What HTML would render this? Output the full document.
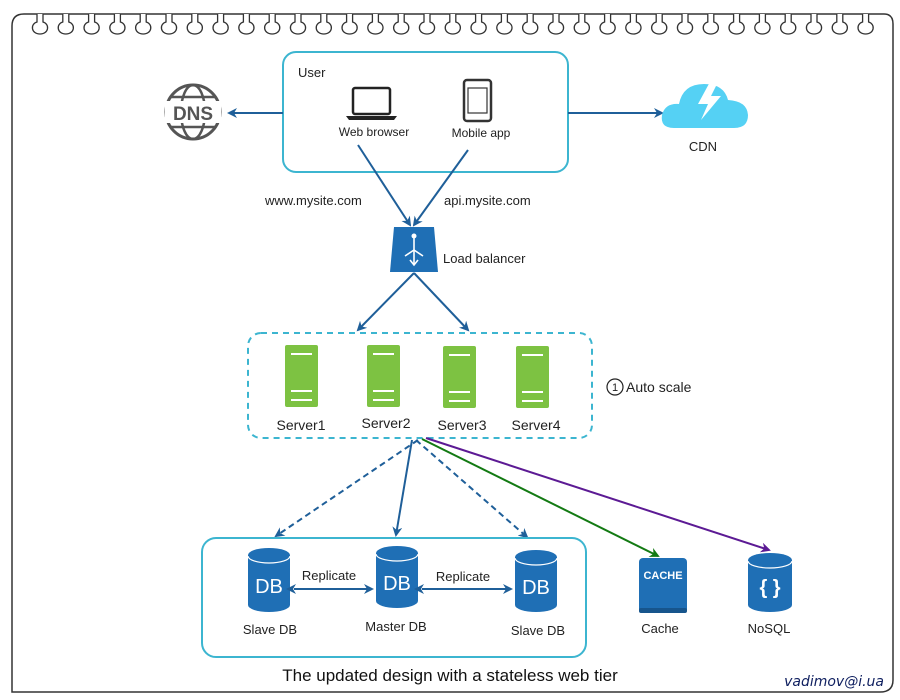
<!DOCTYPE html>
<html><head><meta charset="utf-8">
<style>
html,body{margin:0;padding:0;background:#fff;}
svg{display:block;font-family:"Liberation Sans",Arial,sans-serif;}
</style></head>
<body>
<svg id="s" width="900" height="700" viewBox="0 0 900 700" xmlns="http://www.w3.org/2000/svg">
<defs>
<marker id="ab" markerWidth="10" markerHeight="10" refX="8" refY="5" orient="auto" markerUnits="userSpaceOnUse"><path d="M0,0 L10,5 L0,10 L3,5 z" fill="#1f5f99"/></marker>
<marker id="ab2" markerWidth="10" markerHeight="10" refX="2" refY="5" orient="auto-start-reverse" markerUnits="userSpaceOnUse"><path d="M0,0 L10,5 L0,10 L3,5 z" fill="#1f5f99"/></marker>
<marker id="ag" markerWidth="10" markerHeight="10" refX="8" refY="5" orient="auto" markerUnits="userSpaceOnUse"><path d="M0,0 L10,5 L0,10 L3,5 z" fill="#137a13"/></marker>
<marker id="ap" markerWidth="10" markerHeight="10" refX="8" refY="5" orient="auto" markerUnits="userSpaceOnUse"><path d="M0,0 L10,5 L0,10 L3,5 z" fill="#5c1a94"/></marker>
</defs>
<!-- frame -->
<path d="M24,14 L884,14 Q893,14 893,24 L893,680 Q893,692 880,692 L12,692 L12,26 Q12,14 24,14" fill="none" stroke="#333" stroke-width="1.5"/>
<g id="loops" fill="#fff" stroke="#333" stroke-width="1.3"></g>

<!-- user box -->
<rect x="283" y="52" width="285" height="120" rx="13" fill="none" stroke="#3cb5d0" stroke-width="2"/>
<text x="298" y="77" font-size="13" fill="#222">User</text>
<rect x="353" y="88" width="37" height="26" rx="2" fill="none" stroke="#222" stroke-width="2.5"/>
<path d="M346,116 L397,116 L394,120 L349,120 z" fill="#222"/>
<text x="374" y="136" font-size="12" fill="#222" text-anchor="middle">Web browser</text>
<rect x="464" y="80" width="27" height="41" rx="3" fill="none" stroke="#333" stroke-width="2.5"/>
<rect x="468" y="88" width="19" height="25" fill="none" stroke="#333" stroke-width="1.2"/>
<text x="481" y="137" font-size="12" fill="#222" text-anchor="middle">Mobile app</text>

<!-- DNS -->
<circle cx="193" cy="112" r="27" fill="none" stroke="#555" stroke-width="3"/>
<ellipse cx="193" cy="112" rx="12" ry="27" fill="none" stroke="#555" stroke-width="2.5"/>
<line x1="170" y1="97" x2="216" y2="97" stroke="#555" stroke-width="2.5"/>
<line x1="170" y1="127" x2="216" y2="127" stroke="#555" stroke-width="2.5"/>
<rect x="165" y="101" width="56" height="22" fill="#fff"/>
<text x="193" y="120" font-size="19" font-weight="bold" fill="#555" text-anchor="middle">DNS</text>
<line x1="283" y1="113" x2="229" y2="113" stroke="#1f5f99" stroke-width="2" marker-end="url(#ab)"/>

<!-- CDN -->
<line x1="568" y1="113" x2="662" y2="113" stroke="#1f5f99" stroke-width="2" marker-end="url(#ab)"/>
<path d="M674,128 Q660,128 662,115 Q665,103 679,104 Q683,84 704,84 Q724,84 728,100 Q747,101 748,115 Q748,128 734,128 z" fill="#55d1f4"/>
<path d="M711,80 L698,104 L708,104 L701,120 L721,96 L711,96 L718,82 z" fill="#fff"/>
<text x="703" y="151" font-size="13" fill="#222" text-anchor="middle">CDN</text>

<!-- to LB -->
<line x1="358" y1="145" x2="410" y2="225" stroke="#1f5f99" stroke-width="2" marker-end="url(#ab)"/>
<line x1="468" y1="150" x2="414" y2="225" stroke="#1f5f99" stroke-width="2" marker-end="url(#ab)"/>
<text x="265" y="205" font-size="13" fill="#222">www.mysite.com</text>
<text x="444" y="205" font-size="13" fill="#222">api.mysite.com</text>

<!-- LB -->
<path d="M394,227 L434,227 L438,272 L390,272 z" fill="#1f6fb5"/>
<g stroke="#fff" stroke-width="1.6" fill="none"><line x1="414" y1="238" x2="414" y2="264"/><path d="M414,250 L405,256 M414,250 L423,256 M410,260 L414,265 L418,260"/></g>
<circle cx="414" cy="236" r="2.5" fill="#fff"/>
<text x="443" y="263" font-size="13" fill="#222">Load balancer</text>
<line x1="414" y1="273" x2="358" y2="330" stroke="#1f5f99" stroke-width="2" marker-end="url(#ab)"/>
<line x1="414" y1="273" x2="468" y2="330" stroke="#1f5f99" stroke-width="2" marker-end="url(#ab)"/>

<!-- servers -->
<rect x="248" y="333" width="344" height="105" rx="13" fill="none" stroke="#3cb5d0" stroke-width="2" stroke-dasharray="6,5"/>
<g fill="#7dc242">
<rect x="285" y="345" width="33" height="62" rx="2"/><rect x="367" y="345" width="33" height="62" rx="2"/>
<rect x="443" y="346" width="33" height="62" rx="2"/><rect x="516" y="346" width="33" height="62" rx="2"/>
</g>
<g stroke="#fff" stroke-width="2">
<path d="M291,354 H312 M291,391 H312 M291,400 H312"/>
<path d="M373,354 H394 M373,391 H394 M373,400 H394"/>
<path d="M449,355 H470 M449,392 H470 M449,401 H470"/>
<path d="M522,355 H543 M522,392 H543 M522,401 H543"/>
</g>
<g font-size="14" fill="#222" text-anchor="middle">
<text x="301" y="430">Server1</text><text x="386" y="428">Server2</text>
<text x="462" y="430">Server3</text><text x="536" y="430">Server4</text>
</g>
<circle cx="615" cy="387" r="8" fill="none" stroke="#222" stroke-width="1.2"/>
<text x="615" y="391" font-size="11" text-anchor="middle" fill="#222">1</text>
<text x="626" y="392" font-size="14" fill="#222">Auto scale</text>

<!-- from servers -->
<line x1="418" y1="440" x2="276" y2="536" stroke="#1f5f99" stroke-width="2" stroke-dasharray="6,4" marker-end="url(#ab)"/>
<line x1="412" y1="440" x2="396" y2="535" stroke="#1f5f99" stroke-width="2" marker-end="url(#ab)"/>
<line x1="416" y1="440" x2="527" y2="537" stroke="#1f5f99" stroke-width="2" stroke-dasharray="6,4" marker-end="url(#ab)"/>
<line x1="422" y1="439" x2="658" y2="556" stroke="#137a13" stroke-width="2" marker-end="url(#ag)"/>
<line x1="426" y1="438" x2="769" y2="550" stroke="#5c1a94" stroke-width="2" marker-end="url(#ap)"/>

<!-- DB box -->
<rect x="202" y="538" width="384" height="119" rx="14" fill="none" stroke="#3cb5d0" stroke-width="2"/>
<g fill="#1f6fb5">
<path d="M248,555 a21,7 0 0 1 42,0 V605 a21,7 0 0 1 -42,0 z"/>
<path d="M376,553 a21,7 0 0 1 42,0 V601 a21,7 0 0 1 -42,0 z"/>
<path d="M515,557 a21,7 0 0 1 42,0 V605 a21,7 0 0 1 -42,0 z"/>
<path d="M748,560 a22,7 0 0 1 44,0 V605 a22,7 0 0 1 -44,0 z"/>
</g>
<g fill="none" stroke="#fff" stroke-width="1.2">
<path d="M248,556 a21,7 0 0 0 42,0"/><path d="M376,554 a21,7 0 0 0 42,0"/><path d="M515,558 a21,7 0 0 0 42,0"/><path d="M748,561 a22,7 0 0 0 44,0"/>
</g>
<g font-size="20" fill="#fff" text-anchor="middle">
<text x="269" y="593">DB</text><text x="397" y="590">DB</text><text x="536" y="594">DB</text>
<text x="770" y="594" font-weight="bold">{ }</text>
</g>
<line x1="294" y1="589" x2="372" y2="589" stroke="#1f5f99" stroke-width="2" marker-start="url(#ab2)" marker-end="url(#ab)"/>
<line x1="422" y1="589" x2="511" y2="589" stroke="#1f5f99" stroke-width="2" marker-start="url(#ab2)" marker-end="url(#ab)"/>
<g font-size="13" fill="#222" text-anchor="middle">
<text x="329" y="580">Replicate</text><text x="463" y="581">Replicate</text>
<text x="270" y="634">Slave DB</text><text x="396" y="631">Master DB</text><text x="538" y="635">Slave DB</text>
<text x="660" y="633">Cache</text><text x="769" y="633">NoSQL</text>
</g>
<rect x="639" y="558" width="48" height="55" rx="4" fill="#1f6fb5"/>
<rect x="639" y="608" width="48" height="5" rx="2" fill="#17558c"/>
<text x="663" y="579" font-size="11" font-weight="bold" fill="#fff" text-anchor="middle">CACHE</text>

<text x="450" y="681" font-size="17" fill="#111" text-anchor="middle">The updated design with a stateless web tier</text>
<text x="884" y="686" font-size="14" font-style="italic" fill="#102060" text-anchor="end" font-family="DejaVu Sans, sans-serif">vadimov@i.ua</text>
</svg>
<script>
var g=document.getElementById('loops'),h='';
for(var i=0;i<33;i++){var c=40+i*25.8;
h+='<path d="M'+(c-3)+',14 L'+(c-3)+',22 C'+(c-10)+',24 '+(c-9)+',34 '+c+',34 C'+(c+9)+',34 '+(c+10)+',24 '+(c+3)+',22 L'+(c+3)+',14"/>';}
g.innerHTML=h;
</script>
</body></html>
